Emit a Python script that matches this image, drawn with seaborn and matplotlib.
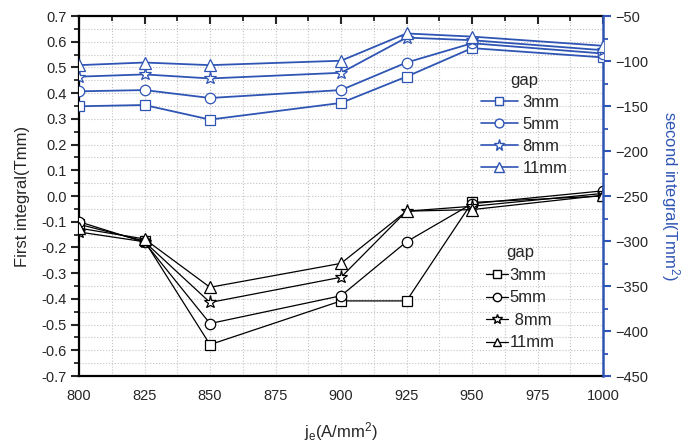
import matplotlib
matplotlib.use("Agg")
import matplotlib.pyplot as plt
import seaborn as sns
import numpy as np
import pandas as pd
from matplotlib.ticker import MultipleLocator
from matplotlib.lines import Line2D

# ---- data ----
je = [800, 825, 850, 900, 925, 950, 1000]
gaps = ["3mm", "5mm", "8mm", "11mm"]
markers = ["s", "o", "*", "^"]

# first integral (Tmm), left axis, black
first_3mm = [-0.11, -0.175, -0.578, -0.408, -0.408, -0.025, 0.000]
first_5mm = [-0.10, -0.180, -0.496, -0.388, -0.178, -0.030, 0.020]
first_8mm = [-0.14, -0.178, -0.414, -0.316, -0.059, -0.040, 0.010]
first_11mm = [-0.125, -0.167, -0.355, -0.262, -0.059, -0.053, 0.003]

# second integral (Tmm^2), right axis, blue
second_3mm = [-150.3, -148.9, -165.1, -146.6, -117.4, -85.7, -96.0]
second_5mm = [-133.7, -132.3, -141.1, -132.3, -101.7, -80.3, -91.7]
second_8mm = [-117.4, -114.9, -119.4, -113.1, -74.0, -76.9, -88.0]
second_11mm = [-104.6, -101.7, -104.6, -99.7, -69.4, -72.9, -83.1]

first_all = [first_3mm, first_5mm, first_8mm, first_11mm]
second_all = [second_3mm, second_5mm, second_8mm, second_11mm]

BLUE = "#2f55b4"

sns.set_style("white")
plt.rcParams["font.family"] = ["Liberation Sans", "DejaVu Sans"]
plt.rcParams["mathtext.fontset"] = "custom"
plt.rcParams["mathtext.rm"] = "Liberation Sans"
plt.rcParams["mathtext.default"] = "regular"

fig = plt.figure(figsize=(6.99, 4.44), dpi=100)
ax = fig.add_axes([79 / 699, 1 - 376 / 444, 524 / 699, 360 / 444])
ax2 = ax.twinx()

msizes = {"s": 6.5, "o": 7.5, "*": 9.5, "^": 8}

for g, m, vals in zip(gaps, markers, first_all):
    df = pd.DataFrame({"je": je, "v": vals})
    sns.lineplot(data=df, x="je", y="v", ax=ax, color="black", marker=m,
                 markersize=msizes[m], markerfacecolor="white",
                 markeredgecolor="black", markeredgewidth=0.9,
                 linewidth=0.9, legend=False, zorder=3)

for g, m, vals in zip(gaps, markers, second_all):
    df = pd.DataFrame({"je": je, "v": vals})
    sns.lineplot(data=df, x="je", y="v", ax=ax2, color=BLUE, marker=m,
                 markersize=msizes[m], markerfacecolor="white",
                 markeredgecolor=BLUE, markeredgewidth=0.9,
                 linewidth=1.3, legend=False, zorder=3)

# axes ranges
ax.set_xlim(800, 1000)
ax.set_ylim(-0.7, 0.7)
ax2.set_ylim(-450, -50)

ax.xaxis.set_major_locator(MultipleLocator(25))
ax.xaxis.set_minor_locator(MultipleLocator(12.5))
ax.yaxis.set_major_locator(MultipleLocator(0.1))
ax.yaxis.set_minor_locator(MultipleLocator(0.05))
ax2.yaxis.set_major_locator(MultipleLocator(50))
ax2.yaxis.set_minor_locator(MultipleLocator(25))

ax.yaxis.set_major_formatter(plt.FuncFormatter(lambda v, p: f"{v:.1f}".replace("-0.0", "0.0")))

ax.grid(which="both", linestyle=":", color="#c4c4c4", linewidth=0.8)
ax.set_axisbelow(True)

ax.tick_params(axis="x", which="major", direction="out", length=6, width=1.5,
               labelsize=10.5, top=True, pad=3)
ax.tick_params(axis="x", which="minor", direction="out", length=3.5, width=1.3,
               top=True)
ax.tick_params(axis="y", which="major", direction="out", length=6, width=1.5,
               labelsize=10.5, pad=3)
ax.tick_params(axis="y", which="minor", direction="out", length=3.5, width=1.3)
# top ticks point inward
for t in ax.xaxis.get_major_ticks() + ax.xaxis.get_minor_ticks():
    t.tick2line.set_marker(3)  # TICKDOWN
ax2.tick_params(axis="y", which="major", direction="out", length=6, width=1.5,
                labelsize=10.5, color=BLUE, pad=3)
ax2.tick_params(axis="y", which="minor", direction="out", length=3.5, width=1.3,
                color=BLUE)

for s in ["left", "bottom", "top"]:
    ax.spines[s].set_linewidth(1.6)
    ax.spines[s].set_color("black")
ax.spines["right"].set_visible(False)
for s in ["left", "bottom", "top"]:
    ax2.spines[s].set_visible(False)
ax2.spines["right"].set_color(BLUE)
ax2.spines["right"].set_linewidth(1.8)

ax.set_xlabel(r"j$_e$(A/mm$^2$)", fontsize=12, labelpad=13)
ax.set_ylabel("First integral(Tmm)", fontsize=12, labelpad=8)
ax2.set_ylabel(r"second integral(Tmm$^2$)", fontsize=12, color=BLUE,
               rotation=270, labelpad=24)

# legends
blue_handles = [Line2D([], [], color=BLUE, marker=m, markersize=msizes[m] * 0.85,
                       markerfacecolor="white", markeredgecolor=BLUE,
                       linewidth=1.2) for m in markers]
leg1 = ax2.legend(blue_handles, gaps, title="gap", loc="upper left",
                  bbox_to_anchor=(0.745, 0.875), frameon=False, fontsize=12,
                  title_fontsize=12, handlelength=2.2, handletextpad=0.3,
                  labelspacing=0.42, borderpad=0.2)

black_handles = [Line2D([], [], color="black", marker=m, markersize=msizes[m] * 0.8,
                        markerfacecolor="white", markeredgecolor="black",
                        linewidth=0.9) for m in markers]
leg2 = ax2.legend(black_handles, ["3mm", "5mm", " 8mm", "11mm"], title="gap",
                  loc="upper left", bbox_to_anchor=(0.755, 0.395), frameon=False,
                  fontsize=12, title_fontsize=12, handlelength=1.3,
                  handletextpad=0.1, labelspacing=0.45, borderpad=0.2)
ax2.add_artist(leg1)

fig.savefig("out.png", dpi=100)
